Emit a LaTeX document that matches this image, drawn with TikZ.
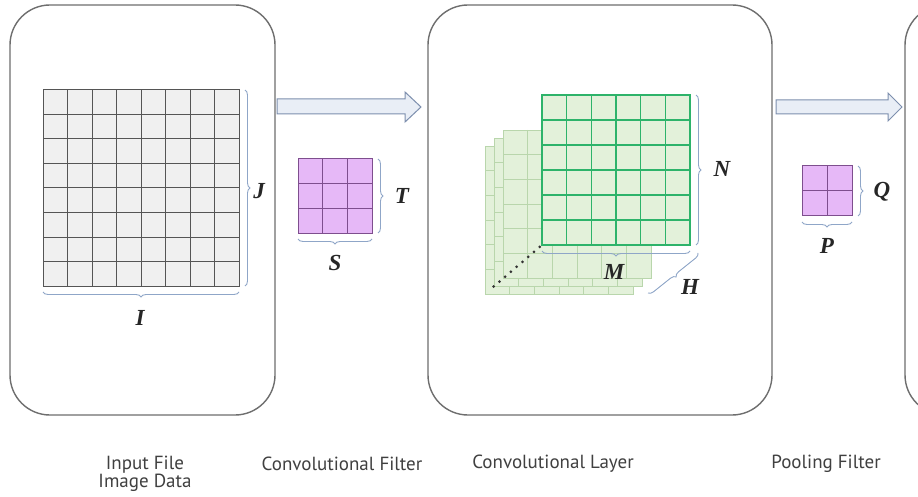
\documentclass[tikz,border=0pt]{standalone}
\usepackage{fontspec}
\usetikzlibrary{decorations.pathreplacing}
\newfontfamily\varfont{Liberation Serif}
\newfontfamily\capfont{PT Sans}
\definecolor{boxline}{HTML}{6E6E6E}
\definecolor{imgfill}{HTML}{F0F0F0}
\definecolor{imgline}{HTML}{555555}
\definecolor{purfill}{HTML}{E6B8F7}
\definecolor{purline}{HTML}{7E4E8E}
\definecolor{grnfill}{HTML}{E3F1DA}
\definecolor{grnline}{HTML}{2EB36A}
\definecolor{grnfaint}{HTML}{B9D6AC}
\definecolor{brcline}{HTML}{8FA6C8}
\definecolor{arrfill}{HTML}{E9EEF6}
\definecolor{arrline}{HTML}{7D8FAE}
\begin{document}
\begin{tikzpicture}[x=1pt,y=-1pt,
  panel/.style={draw=boxline, line width=1.4pt, rounded corners=40pt, fill=white, inner sep=0},
  gridbox/.style={anchor=north west, inner sep=0, outer sep=0},
  brc/.style={draw=brcline, line width=0.9pt, decorate, decoration={brace, amplitude=5pt}},
  varlbl/.style={font=\varfont\bfseries\itshape\fontsize{23}{23}\selectfont, text=black!85, inner sep=0},
  caption/.style={font=\capfont\fontsize{19}{16.5}\selectfont, text=black!75, align=center, inner sep=0},
  blockarrow/.style={draw=arrline, line width=1pt, fill=arrfill, line join=miter}
]
\useasboundingbox (0,0) rectangle (918,497);
\clip (0,0) rectangle (918,497);
\fill[white] (0,0) rectangle (918,497);

% panels
\node[panel, minimum width=265, minimum height=410] (inputpanel) at (142.5,210) {};
\node[panel, minimum width=344, minimum height=410] (convpanel) at (600,210) {};
\node[panel, minimum width=200, minimum height=410] (nextpanel) at (1005,210) {};

% block arrows
\draw[blockarrow] (277,99) -- (405,99) -- (405,92) -- (421,107) -- (405,122) -- (405,114) -- (277,114) -- cycle;
\draw[blockarrow] (776,100) -- (888,100) -- (888,93) -- (902,107) -- (888,121) -- (888,114) -- (776,114) -- cycle;

% input image grid 8x8
\node[gridbox, draw=imgline, line width=1pt, fill=imgfill, minimum width=196, minimum height=196] (img) at (43,90) {};
\foreach \i in {1,...,7} {
  \draw[imgline, line width=1pt] (43+\i*24.5,90) -- (43+\i*24.5,286);
  \draw[imgline, line width=1pt] (43,90+\i*24.5) -- (239,90+\i*24.5);
}
\draw[brc] ([xshift=6pt]img.north east) -- ([xshift=6pt]img.south east);
\draw[brc] ([yshift=-6pt]img.south east) -- ([yshift=-6pt]img.south west);
\node[varlbl] (lJ) at (259,191) {J};
\node[varlbl] (lI) at (140,318) {I};

% convolutional filter 3x3
\node[gridbox, draw=purline, line width=1pt, fill=purfill, minimum width=74, minimum height=74] (filt) at (298,159) {};
\foreach \i in {1,2} {
  \draw[purline, line width=1pt] (298+\i*24.67,159) -- (298+\i*24.67,233);
  \draw[purline, line width=1pt] (298,159+\i*24.67) -- (372,159+\i*24.67);
}
\draw[brc] ([xshift=6pt]filt.north east) -- ([xshift=6pt]filt.south east);
\draw[brc] ([yshift=-6pt]filt.south east) -- ([yshift=-6pt]filt.south west);
\node[varlbl] (lT) at (402,196) {T};
\node[varlbl] (lS) at (335,263) {S};

% convolutional layer: back feature maps
\foreach \n/\px/\py in {L1/485/146, L2/494/138, L3/503/130} {
  \node[gridbox, draw=grnfaint, line width=0.8pt, fill=grnfill, minimum width=148, minimum height=148] (\n) at (\px,\py) {};
  \foreach \i in {1,...,5} {
    \draw[grnfaint, line width=0.8pt] (\px+\i*24.67,\py) -- (\px+\i*24.67,\py+148);
    \draw[grnfaint, line width=0.8pt] (\px,\py+\i*24.67) -- (\px+148,\py+\i*24.67);
  }
}
% front feature map 6x6
\node[gridbox, draw=grnline, line width=1.3pt, fill=grnfill, minimum width=148, minimum height=150] (fmap) at (542,95) {};
\foreach \i in {1,...,5} {
  \draw[grnline, line width=1.3pt] (542+\i*24.67,95) -- (542+\i*24.67,245);
  \draw[grnline, line width=1.3pt] (542,95+\i*25) -- (690,95+\i*25);
}
\draw[black!80, line width=3pt, dash pattern=on 0pt off 7.6pt, line cap=round, shorten <=3pt, shorten >=9pt] (fmap.south west) -- (L1.south west);
\draw[brc] ([xshift=6pt]fmap.north east) -- ([xshift=6pt]fmap.south east);
\draw[brc] ([yshift=-6pt]fmap.south east) -- ([yshift=-6pt]fmap.south west);
\coordinate (hA) at (698,253);
\coordinate (hB) at (648,293);
\draw[brc] (hA) -- (hB);
\node[varlbl] (lN) at (722,169) {N};
\node[varlbl] (lM) at (614,272) {M};
\node[varlbl] (lH) at (690,287) {H};

% pooling filter 2x2
\node[gridbox, draw=purline, line width=1pt, fill=purfill, minimum width=50, minimum height=50] (pool) at (802,166) {};
\draw[purline, line width=1pt] (827,166) -- (827,216);
\draw[purline, line width=1pt] (802,191) -- (852,191);
\draw[brc] ([xshift=6pt]pool.north east) -- ([xshift=6pt]pool.south east);
\draw[brc] ([yshift=-6pt]pool.south east) -- ([yshift=-6pt]pool.south west);
\node[varlbl] (lQ) at (882,192) {Q};
\node[varlbl] (lP) at (827,246) {P};

% captions
\node[caption] (c1) at (145,474) {Input File\\Image Data};
\node[caption] (c2) at (342,464) {Convolutional Filter};
\node[caption] (c3) at (553,464) {Convolutional Layer};
\node[caption] (c4) at (826,464) {Pooling Filter};
\end{tikzpicture}
\end{document}
